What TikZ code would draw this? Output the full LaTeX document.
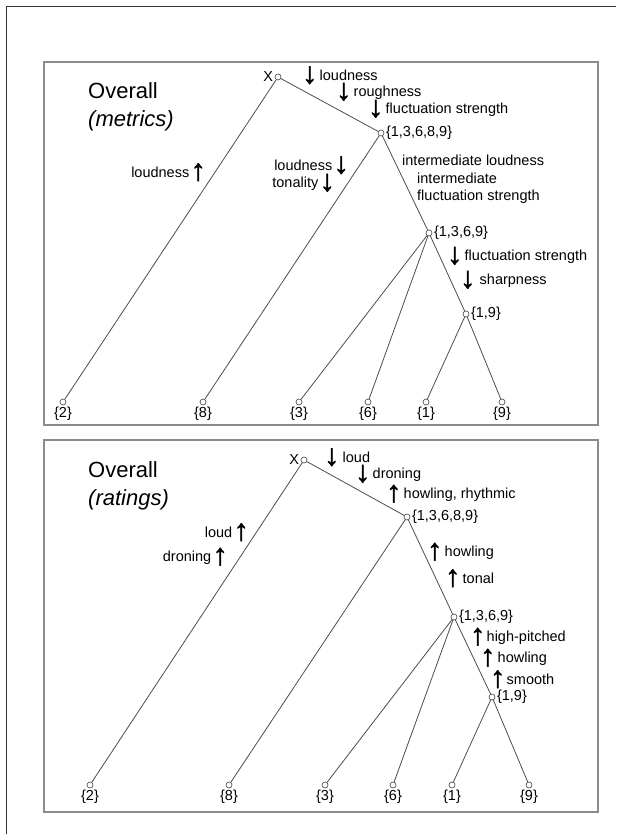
\documentclass[tikz,border=0pt]{standalone}
\usepackage{fontspec}
\setmainfont{Liberation Sans}
\newfontfamily\arrfont[FakeBold=2]{Liberation Sans}
\usetikzlibrary{positioning}

\newcommand\arrdn{\raisebox{-3pt}[0pt][0pt]{\arrfont\fontsize{30}{30}\selectfont ↓}}
\newcommand\arrup{\raisebox{-3pt}[0pt][0pt]{\arrfont\fontsize{30}{30}\selectfont ↑}}

\begin{document}
\begin{tikzpicture}[x=1pt, y=-1pt,
            dot/.style={shape=circle, inner sep=0pt, minimum size=6pt, draw=black!75, line width=0.6pt, fill=white},
            txt/.style={inner sep=0pt, font=\fontsize{14.5}{17.5}\selectfont},
            title/.style={inner sep=0pt, anchor=west, align=left, font=\fontsize{22}{28}\selectfont},
            panel/.style={draw=black!45, line width=2.4pt},
            branch/.style={draw=black!70, line width=0.8pt},
            every label/.style={txt}, label distance=1.5pt]
        \useasboundingbox (0,0) rectangle (616,834);
        \draw[black!80, line width=1pt] (616,7) -- (6,7) -- (6,834);

        % metrics
        \draw[panel] (44,62) rectangle (598,425);
        \node[title] (ttlm) at (88,107) {Overall\\\textit{(metrics)}};

        \node[dot, label=left:X] (xm) at (278,77) {};
        \node[dot, label=right:{\{1,3,6,8,9\}}] (m13689) at (381,133) {};
        \node[dot, label=right:{\{1,3,6,9\}}] (m1369) at (429,233) {};
        \node[dot, label=right:{\{1,9\}}] (m19) at (466,314) {};
        \node[dot, label=below:{\{2\}}] (m2) at (63,402) {};
        \node[dot, label=below:{\{8\}}] (m8) at (203,402) {};
        \node[dot, label=below:{\{3\}}] (m3) at (299,402) {};
        \node[dot, label=below:{\{6\}}] (m6) at (368,402) {};
        \node[dot, label=below:{\{1\}}] (m1) at (426,402) {};
        \node[dot, label=below:{\{9\}}] (m9) at (502,402) {};

        \draw[branch] (xm) -- (m2);
        \draw[branch] (xm) -- (m13689);
        \draw[branch] (m13689) -- (m8);
        \draw[branch] (m13689) -- (m1369);
        \draw[branch] (m1369) -- (m3);
        \draw[branch] (m1369) -- (m6);
        \draw[branch] (m1369) -- (m19);
        \draw[branch] (m19) -- (m1);
        \draw[branch] (m19) -- (m9);

        \node[txt, anchor=west] (mloud) at (302,75) {\arrdn\hspace{2.5pt}loudness};
        \node[txt, anchor=west] (mrough) at (336,93) {\arrdn\hspace{2.5pt}roughness};
        \node[txt, anchor=west] (mfluct) at (368,110) {\arrdn\hspace{2.5pt}fluctuation strength};
        \node[txt, anchor=east] (mloudup) at (206,172) {loudness\hspace{1.5pt}\arrup};
        \node[txt, anchor=east] (mlouddn) at (349,165) {loudness\hspace{1.5pt}\arrdn};
        \node[txt, anchor=east] (mtonal) at (335,184) {tonality\hspace{1.5pt}\arrdn};
        \node[txt, anchor=west, align=left] (minter) at (402,179.5) {intermediate loudness\\\hspace*{15pt}intermediate\\\hspace*{15pt}fluctuation strength};
        \node[txt, anchor=west] (mfluct2) at (447,257) {\arrdn\hspace{2.5pt}fluctuation strength};
        \node[txt, anchor=west] (msharp) at (460,281) {\arrdn\hspace{4.5pt}sharpness};

        % ratings
        \draw[panel] (44,440) rectangle (598,812);
        \node[title] (ttlr) at (88,486) {Overall\\\textit{(ratings)}};

        \node[dot, label=left:X] (xr) at (304,460) {};
        \node[dot, label=right:{\{1,3,6,8,9\}}] (r13689) at (407,517) {};
        \node[dot, label=right:{\{1,3,6,9\}}] (r1369) at (454,617) {};
        \node[dot, label=right:{\{1,9\}}] (r19) at (492,697) {};
        \node[dot, label=below:{\{2\}}] (r2) at (90,785) {};
        \node[dot, label=below:{\{8\}}] (r8) at (229,785) {};
        \node[dot, label=below:{\{3\}}] (r3) at (325,785) {};
        \node[dot, label=below:{\{6\}}] (r6) at (393,785) {};
        \node[dot, label=below:{\{1\}}] (r1) at (452,785) {};
        \node[dot, label=below:{\{9\}}] (r9) at (529,785) {};

        \draw[branch] (xr) -- (r2);
        \draw[branch] (xr) -- (r13689);
        \draw[branch] (r13689) -- (r8);
        \draw[branch] (r13689) -- (r1369);
        \draw[branch] (r1369) -- (r3);
        \draw[branch] (r1369) -- (r6);
        \draw[branch] (r1369) -- (r19);
        \draw[branch] (r19) -- (r1);
        \draw[branch] (r19) -- (r9);

        \node[txt, anchor=west] (rloud) at (324,457) {\arrdn\hspace{3.5pt}loud};
        \node[txt, anchor=west] (rdron) at (355,475) {\arrdn\hspace{2.5pt}droning};
        \node[txt, anchor=west] (rhowl) at (386,495) {\arrup\hspace{2.5pt}howling, rhythmic};
        \node[txt, anchor=east] (rloudup) at (249,532) {loud\hspace{1.5pt}\arrup};
        \node[txt, anchor=east] (rdronup) at (228,558) {droning\hspace{1.5pt}\arrup};
        \node[txt, anchor=west] (rhowl2) at (427,553) {\arrup\hspace{2.5pt}howling};
        \node[txt, anchor=west] (rtonal) at (445,578) {\arrup\hspace{2.5pt}tonal};
        \node[txt, anchor=west] (rhigh) at (470,638) {\arrup\hspace{1.5pt}high-pitched};
        \node[txt, anchor=west] (rhowl3) at (480,659) {\arrup\hspace{2.5pt}howling};
        \node[txt, anchor=west] (rsmooth) at (490,679) {\arrup\hspace{1.5pt}smooth};
    \end{tikzpicture}
\end{document}
